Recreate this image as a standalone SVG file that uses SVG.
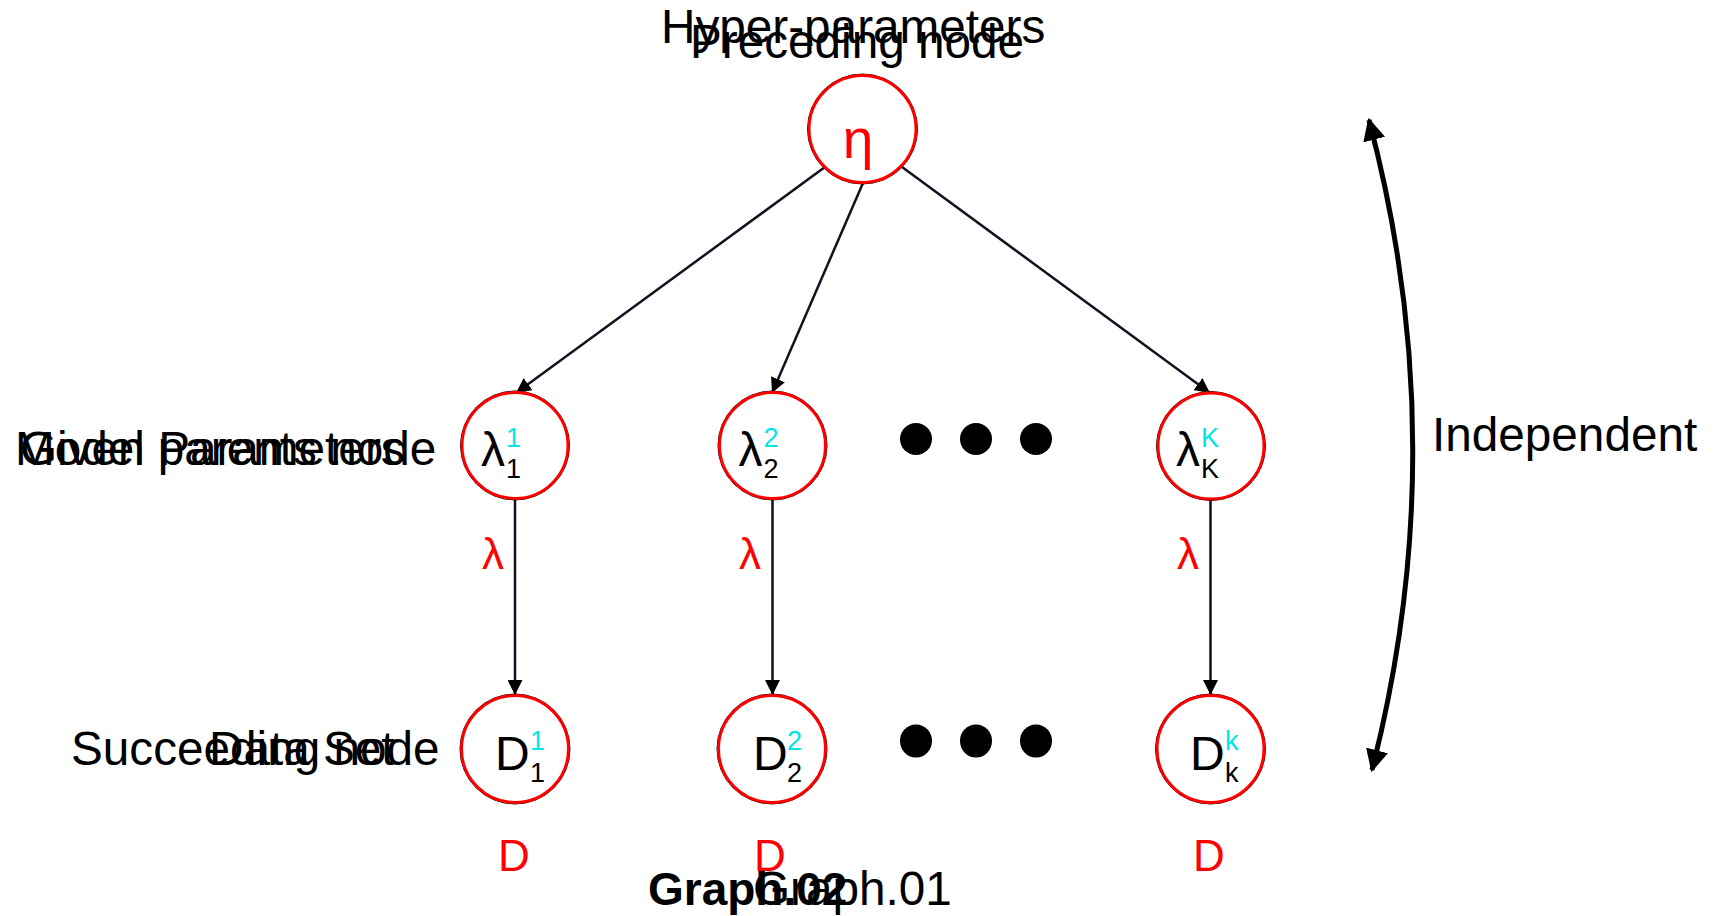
<svg xmlns="http://www.w3.org/2000/svg" width="1717" height="916" viewBox="0 0 1717 916">
<defs>
<style>
text{font-family:"Liberation Sans",Arial,sans-serif;}
.lbl{font-size:47.7px;fill:#000;}
.ring{fill:#fff;stroke:#000;stroke-width:1;}
.ringr{fill:none;stroke:#ff0000;stroke-width:3;}
.big{font-size:48px;fill:#000;}
.sup{font-size:27px;fill:#00e6e6;}
.sub{font-size:27px;fill:#000;}
.red{font-size:44px;fill:#ff0000;}
.dot{fill:#000;}
.edge{stroke:#111122;stroke-width:2.5;fill:none;marker-end:url(#ah);}
</style>
<marker id="ah" viewBox="0 0 10 10" refX="10" refY="5" markerWidth="6" markerHeight="6" markerUnits="strokeWidth" orient="auto">
<path d="M0,0 L10,5 L0,10 z" fill="#000"/>
</marker>
<marker id="ah2" viewBox="0 0 10 10" refX="9" refY="5" markerWidth="4.5" markerHeight="4.5" markerUnits="strokeWidth" orient="auto-start-reverse">
<path d="M0,0 L10,5 L0,10 z" fill="#000"/>
</marker>
</defs>
<rect width="1717" height="916" fill="#fff"/>

<g id="labels">
<text class="lbl" x="661" y="43">Hyper-parameters</text>
<text class="lbl" x="690" y="58">Preceding node</text>
<text class="lbl" x="15" y="465">Model Parameters</text>
<text class="lbl" x="20" y="465">Given parents node</text>
<text class="lbl" x="71" y="765">Succeeding node</text>
<text class="lbl" x="209" y="765">Data Set</text>
<text class="lbl" x="1432" y="451">Independent</text>
<text class="lbl" x="753" y="905">Graph.01</text>
<text class="lbl" x="648" y="905" font-weight="bold" style="font-size:46px">Graph.02</text>
</g>

<g id="connectors">
<line class="edge" x1="825" y1="167" x2="516" y2="393"/>
<line class="edge" x1="863" y1="183" x2="772" y2="393"/>
<line class="edge" x1="902" y1="167" x2="1210" y2="393"/>
<line class="edge" x1="515" y1="499" x2="515" y2="695"/>
<line class="edge" x1="772.5" y1="499" x2="772.5" y2="695"/>
<line class="edge" x1="1210.5" y1="499" x2="1210.5" y2="695"/>
<path d="M1369,120 Q1455,445 1372,770" fill="none" stroke="#000" stroke-width="5" marker-start="url(#ah2)" marker-end="url(#ah2)"/>
</g>

<g id="node-eta">
<circle class="ring" cx="862.5" cy="129" r="55"/>
<circle class="ringr" cx="862.5" cy="129" r="53.5" fill="#fff"/>
<text x="858" y="158" text-anchor="middle" style="font-size:55px;fill:#ff0000">η</text>
</g>

<g id="node-lambda1">
<circle class="ring" cx="515" cy="445.5" r="54.5"/>
<circle class="ringr" cx="515" cy="445.5" r="53"/>
<text class="big" x="481" y="466">λ</text>
<text class="sup" x="506" y="447">1</text>
<text class="sub" x="506" y="478">1</text>
</g>
<g id="node-lambda2">
<circle class="ring" cx="772.5" cy="445.5" r="54.5"/>
<circle class="ringr" cx="772.5" cy="445.5" r="53"/>
<text class="big" x="738.5" y="466">λ</text>
<text class="sup" x="763.5" y="447">2</text>
<text class="sub" x="763.5" y="478">2</text>
</g>
<g id="node-lambdaK">
<circle class="ring" cx="1211" cy="446" r="54.5"/>
<circle class="ringr" cx="1211" cy="446" r="53"/>
<text class="big" x="1176" y="466">λ</text>
<text class="sup" x="1201" y="447">K</text>
<text class="sub" x="1201" y="478">K</text>
</g>

<g id="node-D1">
<circle class="ring" cx="515" cy="749" r="55"/>
<circle class="ringr" cx="515" cy="749" r="53.5"/>
<text class="big" x="495" y="770">D</text>
<text class="sup" x="530" y="750">1</text>
<text class="sub" x="530" y="782">1</text>
</g>
<g id="node-D2">
<circle class="ring" cx="772" cy="749" r="55"/>
<circle class="ringr" cx="772" cy="749" r="53.5"/>
<text class="big" x="753" y="770">D</text>
<text class="sup" x="787" y="750">2</text>
<text class="sub" x="787" y="782">2</text>
</g>
<g id="node-Dk">
<circle class="ring" cx="1210.5" cy="749" r="55"/>
<circle class="ringr" cx="1210.5" cy="749" r="53.5"/>
<text class="big" x="1190" y="770">D</text>
<text class="sup" x="1225" y="750">k</text>
<text class="sub" x="1225" y="782">k</text>
</g>

<g id="ellipsis-top">
<ellipse class="dot" cx="916" cy="439" rx="16" ry="16"/>
<ellipse class="dot" cx="976" cy="439" rx="16" ry="16"/>
<ellipse class="dot" cx="1036" cy="439" rx="16" ry="16"/>
</g>
<g id="ellipsis-bottom">
<ellipse class="dot" cx="916" cy="741" rx="16" ry="16.5"/>
<ellipse class="dot" cx="976" cy="741" rx="16" ry="16.5"/>
<ellipse class="dot" cx="1036" cy="741" rx="16" ry="16.5"/>
</g>

<g id="edge-labels">
<text class="red" x="493" y="569" text-anchor="middle">λ</text>
<text class="red" x="750" y="569" text-anchor="middle">λ</text>
<text class="red" x="1188" y="569" text-anchor="middle">λ</text>
<text class="red" x="514" y="871" text-anchor="middle">D</text>
<text class="red" x="770" y="871" text-anchor="middle">D</text>
<text class="red" x="1209" y="871" text-anchor="middle">D</text>
</g>
</svg>
